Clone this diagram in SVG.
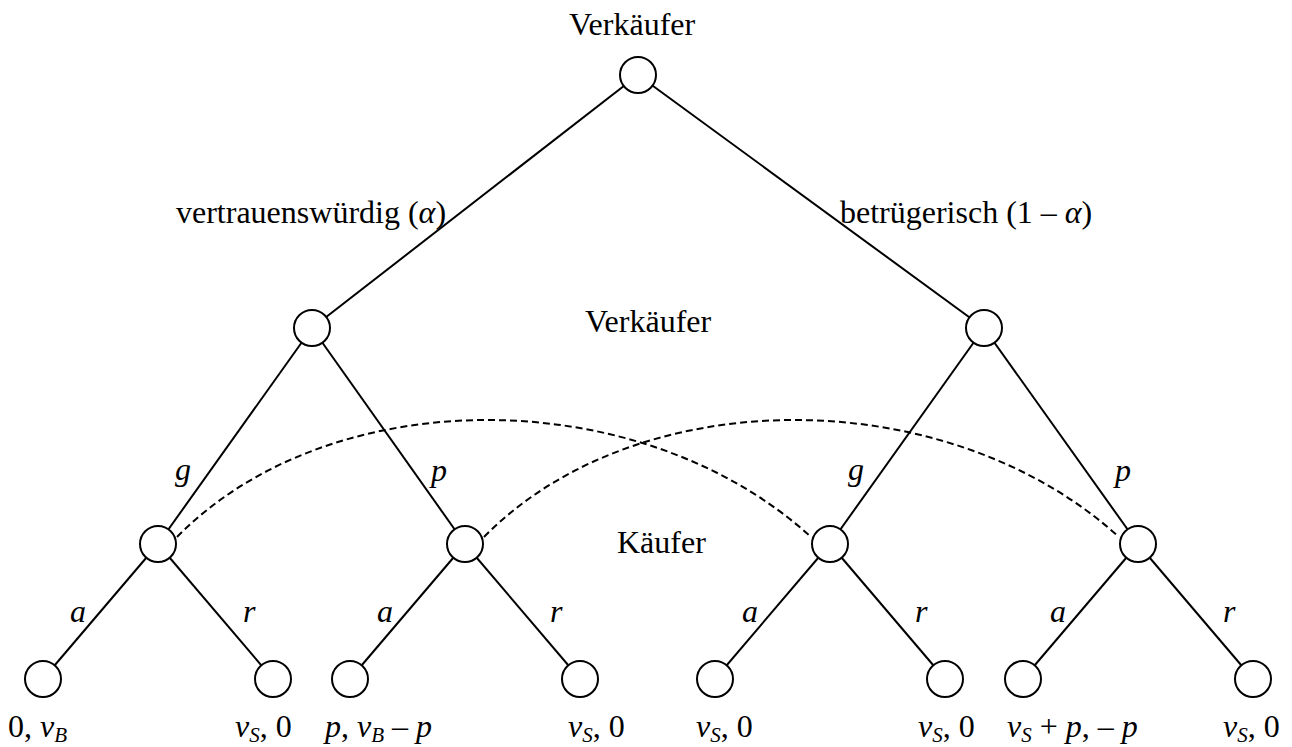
<svg xmlns="http://www.w3.org/2000/svg" width="1292" height="747" viewBox="0 0 1292 747">
<style>
.n{fill:#fff;stroke:#000;stroke-width:2}
.e{stroke:#000;stroke-width:2;fill:none}
.d{stroke:#000;stroke-width:2;fill:none;stroke-dasharray:7 4}
text{font-family:"Liberation Serif","Times New Roman",serif;font-size:32px;fill:#000}
.i{font-style:italic}
.s{font-size:21px;font-style:italic}
</style>
<rect width="1292" height="747" fill="#fff"/>
<g id="connectors">
<line class="e" x1="638" y1="75" x2="312" y2="328"/>
<line class="e" x1="638" y1="75" x2="984" y2="328"/>
<line class="e" x1="312" y1="328" x2="158" y2="544"/>
<line class="e" x1="312" y1="328" x2="465" y2="544"/>
<line class="e" x1="984" y1="328" x2="830" y2="544"/>
<line class="e" x1="984" y1="328" x2="1138" y2="544"/>
<line class="e" x1="158" y1="544" x2="43" y2="679"/>
<line class="e" x1="158" y1="544" x2="273" y2="679"/>
<line class="e" x1="465" y1="544" x2="350" y2="679"/>
<line class="e" x1="465" y1="544" x2="580" y2="679"/>
<line class="e" x1="830" y1="544" x2="715" y2="679"/>
<line class="e" x1="830" y1="544" x2="945" y2="679"/>
<line class="e" x1="1138" y1="544" x2="1023" y2="679"/>
<line class="e" x1="1138" y1="544" x2="1253" y2="679"/>
<path class="d" d="M177,537 C330,381 640,381 811,537"/>
<path class="d" d="M484,537 C637,381 947,381 1119,537"/>
</g>
<g id="root"><circle class="n" cx="638" cy="75" r="18"/><text x="569" y="35">Verkäufer</text></g>
<g id="seller-trust"><circle class="n" cx="312" cy="328" r="18"/></g>
<g id="seller-fraud"><circle class="n" cx="984" cy="328" r="18"/></g>
<g id="buyer-1"><circle class="n" cx="158" cy="544" r="18"/></g>
<g id="buyer-2"><circle class="n" cx="465" cy="544" r="18"/></g>
<g id="buyer-3"><circle class="n" cx="830" cy="544" r="18"/></g>
<g id="buyer-4"><circle class="n" cx="1138" cy="544" r="18"/></g>
<g id="leaf-1"><circle class="n" cx="43" cy="679" r="18"/><text x="8" y="737">0, <tspan class="i">v</tspan><tspan class="s" dy="5">B</tspan></text></g>
<g id="leaf-2"><circle class="n" cx="273" cy="679" r="18"/><text x="235" y="737"><tspan class="i">v</tspan><tspan class="s" dy="5">S</tspan><tspan dy="-5">, 0</tspan></text></g>
<g id="leaf-3"><circle class="n" cx="350" cy="679" r="18"/><text x="325" y="737"><tspan class="i">p</tspan>, <tspan class="i">v</tspan><tspan class="s" dy="5">B</tspan><tspan dy="-5"> – </tspan><tspan class="i">p</tspan></text></g>
<g id="leaf-4"><circle class="n" cx="580" cy="679" r="18"/><text x="568" y="737"><tspan class="i">v</tspan><tspan class="s" dy="5">S</tspan><tspan dy="-5">, 0</tspan></text></g>
<g id="leaf-5"><circle class="n" cx="715" cy="679" r="18"/><text x="696" y="737"><tspan class="i">v</tspan><tspan class="s" dy="5">S</tspan><tspan dy="-5">, 0</tspan></text></g>
<g id="leaf-6"><circle class="n" cx="945" cy="679" r="18"/><text x="918" y="737"><tspan class="i">v</tspan><tspan class="s" dy="5">S</tspan><tspan dy="-5">, 0</tspan></text></g>
<g id="leaf-7"><circle class="n" cx="1023" cy="679" r="18"/><text x="1007" y="737"><tspan class="i">v</tspan><tspan class="s" dy="5">S</tspan><tspan dy="-5"> + </tspan><tspan class="i">p</tspan>, – <tspan class="i">p</tspan></text></g>
<g id="leaf-8"><circle class="n" cx="1253" cy="679" r="18"/><text x="1223" y="737"><tspan class="i">v</tspan><tspan class="s" dy="5">S</tspan><tspan dy="-5">, 0</tspan></text></g>
<g id="labels">
<text x="176" y="223">vertrauenswürdig (<tspan class="i">α</tspan>)</text>
<text x="840" y="223">betrügerisch (1 – <tspan class="i">α</tspan>)</text>
<text x="585" y="332">Verkäufer</text>
<text x="617" y="553">Käufer</text>
<text class="i" x="175" y="480">g</text>
<text class="i" x="431" y="481">p</text>
<text class="i" x="848" y="480">g</text>
<text class="i" x="1115" y="481">p</text>
<text class="i" x="70" y="622">a</text>
<text class="i" x="243" y="622">r</text>
<text class="i" x="377" y="622">a</text>
<text class="i" x="550" y="622">r</text>
<text class="i" x="742" y="622">a</text>
<text class="i" x="915" y="622">r</text>
<text class="i" x="1050" y="622">a</text>
<text class="i" x="1223" y="622">r</text>
</g>
</svg>
